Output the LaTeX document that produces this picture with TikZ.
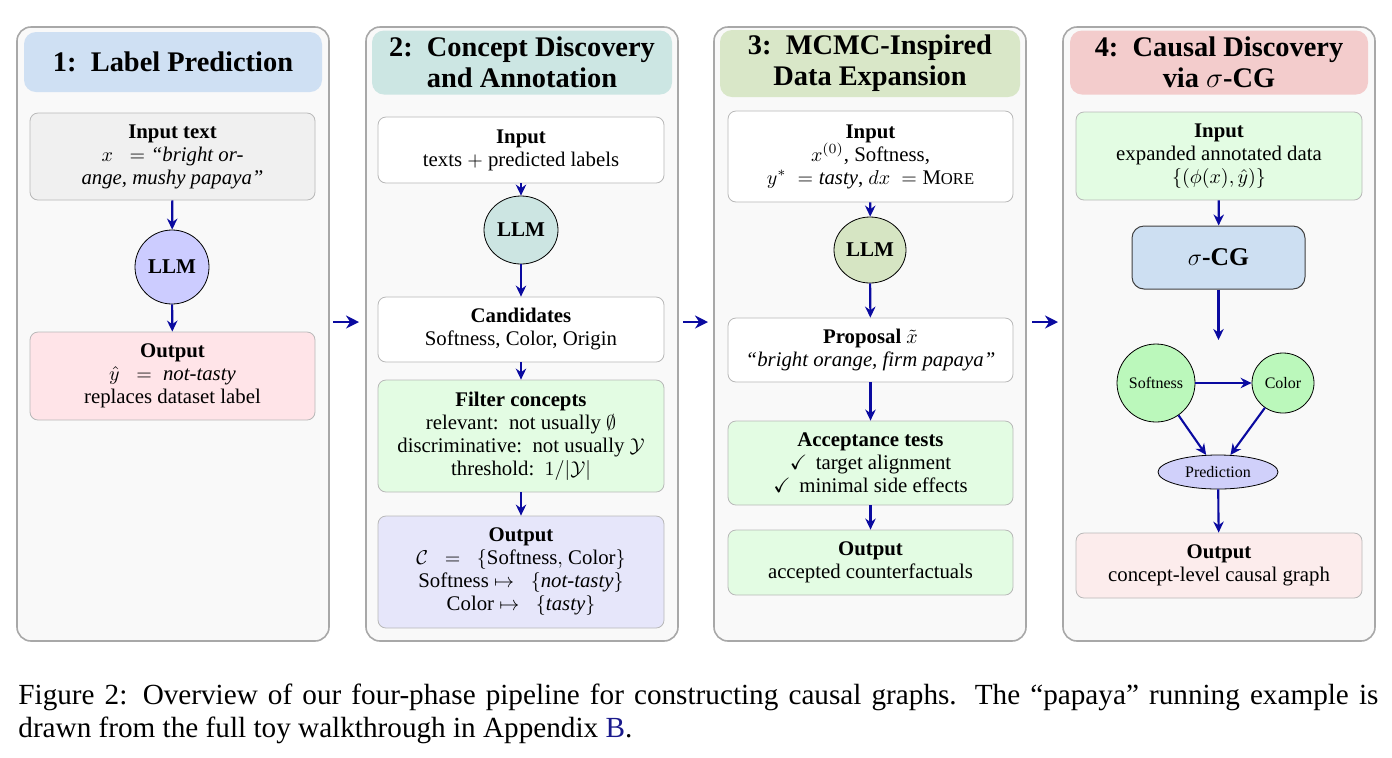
\documentclass[tikz,border=0pt]{standalone}
\usepackage{amsmath,amssymb}
\usepackage{fontspec}
\setmainfont{Liberation Serif}
\usetikzlibrary{arrows.meta,shapes.geometric}
\definecolor{panelfill}{HTML}{F9F9F9}
\definecolor{panelborder}{HTML}{A8A8A8}
\definecolor{hA}{HTML}{CFE0F3}
\definecolor{hB}{HTML}{CCE6E3}
\definecolor{hC}{HTML}{D9E7C8}
\definecolor{hD}{HTML}{F3CCCC}
\definecolor{boxborder}{HTML}{B8B8B8}
\definecolor{grayfill}{HTML}{F0F0F0}
\definecolor{llmA}{HTML}{CCCCFF}
\definecolor{pinkfill}{HTML}{FFE4E8}
\definecolor{llmB}{HTML}{CCE5E2}
\definecolor{greenfill}{HTML}{E3FCE3}
\definecolor{lavfill}{HTML}{E6E6FA}
\definecolor{llmC}{HTML}{D6E5C3}
\definecolor{gnode}{HTML}{BBF8BB}
\definecolor{prednode}{HTML}{D0D0FA}
\definecolor{outpink}{HTML}{FCECEC}
\definecolor{scgfill}{HTML}{CDDFF2}
\definecolor{arrowblue}{HTML}{0A0AA0}
\definecolor{linkblue}{HTML}{1A1A8C}
\newcommand\mybody{\fontsize{10.4}{11.5}\selectfont}
\begin{document}
\begin{tikzpicture}[x=0.5pt,y=-0.5pt,
  panel/.style={draw=panelborder, line width=0.8pt, fill=panelfill, rounded corners=7pt, minimum width=156pt, minimum height=307pt, inner sep=0pt},
  header/.style={fill=#1, rounded corners=6pt, minimum width=149pt, minimum height=32pt, inner sep=0pt, align=center, font=\fontsize{14.2}{15.5}\selectfont\bfseries},
  box/.style={draw=boxborder, line width=0.4pt, rounded corners=4pt, minimum width=143pt, inner sep=1pt, align=center, font=\mybody},
  llmnode/.style={ellipse, draw=black, line width=0.4pt, inner sep=0pt, font=\fontsize{10.5}{12}\selectfont\bfseries},
  gnodestyle/.style={ellipse, draw=black, line width=0.4pt, inner sep=0pt, font=\fontsize{8}{9}\selectfont},
  arr/.style={draw=arrowblue, line width=1.05pt, -{Stealth[length=5.5pt,width=5.2pt]}},
  bigarr/.style={draw=arrowblue, line width=1.4pt, -{Stealth[length=6.5pt,width=6.5pt]}}
]
\useasboundingbox (0,0) rectangle (1392,757);

% panels
\node[panel] (p1) at (173,334) {};
\node[panel] (p2) at (522,334) {};
\node[panel] (p3) at (870,334) {};
\node[panel] (p4) at (1219,334) {};

% headers
\node[header=hA, minimum height=30pt] (h1) at (173,62) {1:\, Label Prediction};
\node[header=hB, minimum width=150pt] (h2) at (522,62.5) {2:\, Concept Discovery\\and Annotation};
\node[header=hC, minimum width=150pt, minimum height=33.5pt] (h3) at (870,63.5) {3:\, MCMC-Inspired\\Data Expansion};
\node[header=hD] (h4) at (1219,62.5) {4:\, Causal Discovery\\via $\sigma$-CG};

% panel 1
\node[box, fill=grayfill, minimum width=142.5pt, minimum height=43.5pt] (in1) at (172.5,156.5)
  {\textbf{Input text}\\ $x\;\;=\;$\textit{``bright or-}\\ \textit{ange, mushy papaya''}};
\node[llmnode, fill=llmA, minimum width=37pt, minimum height=37pt] (llm1) at (172,267) {LLM};
\node[box, fill=pinkfill, minimum width=142.5pt, minimum height=44pt] (out1) at (172.5,376)
  {\textbf{Output}\\ $\hat{y}\;\;=\;\;$\textit{not-tasty}\\ replaces dataset label};
\draw[arr] (in1) -- (llm1);
\draw[arr] (llm1) -- (out1);

% panel 2
\node[box, fill=white, minimum height=33pt] (in2) at (521,150)
  {\textbf{Input}\\ texts $+$ predicted labels};
\node[llmnode, fill=llmB, minimum width=37pt, minimum height=34pt] (llm2) at (521,230) {LLM};
\node[box, fill=white, minimum height=32.5pt] (cand) at (521,329.5)
  {\textbf{Candidates}\\ Softness, Color, Origin};
\node[box, fill=greenfill, minimum height=56pt] (filt) at (521,436)
  {\textbf{Filter concepts}\\ relevant:\, not usually $\emptyset$\\ discriminative:\, not usually $\mathcal{Y}$\\ threshold:\, $1/|\mathcal{Y}|$};
\node[box, fill=lavfill, minimum height=56pt] (out2) at (521,572)
  {\textbf{Output}\\ $\mathcal{C}\;\;=\;\;\{$Softness$,$ Color$\}$\\ Softness $\mapsto\;\;\{$\textit{not-tasty}$\}$\\ Color $\mapsto\;\;\{$\textit{tasty}$\}$};
\draw[arr] (in2) -- (llm2);
\draw[arr] (llm2) -- (cand);
\draw[arr] (cand) -- (filt);
\draw[arr] (filt) -- (out2);

% panel 3
\node[box, fill=white, minimum width=142.5pt, minimum height=45.5pt] (in3) at (870.5,156.5)
  {\textbf{Input}\\ $x^{(0)}$, Softness,\\ $y^{*}\;=\;$\textit{tasty}, $dx\;=\;$M{\fontsize{8.3}{9}\selectfont ORE}};
\node[llmnode, fill=llmC, minimum width=36pt, minimum height=33pt] (llm3) at (870,250) {LLM};
\node[box, fill=white, minimum width=142.5pt, minimum height=32pt] (prop) at (870.5,350)
  {\textbf{Proposal} $\tilde{x}$\\ \textit{``bright orange, firm papaya''}};
\node[box, fill=greenfill, minimum width=142.5pt, minimum height=42pt] (acc) at (870.5,463)
  {\textbf{Acceptance tests}\\ $\checkmark$\, target alignment\\ $\checkmark$\, minimal side effects};
\node[box, fill=greenfill, minimum width=142.5pt, minimum height=32.5pt] (out3) at (870.5,562.5)
  {\textbf{Output}\\ accepted counterfactuals};
\draw[arr] (in3) -- (llm3);
\draw[arr] (llm3) -- (prop);
\draw[arr] (prop) -- (acc);
\draw[arr] (acc) -- (out3);

% panel 4
\node[box, fill=greenfill, minimum height=44pt] (in4) at (1219,156)
  {\textbf{Input}\\ expanded annotated data\\ $\{(\phi(x),\hat{y})\}$};
\node[draw=black!75, line width=0.5pt, fill=scgfill, rounded corners=6pt, minimum width=86.5pt, minimum height=31.5pt, inner sep=0pt, font=\fontsize{12.8}{14}\selectfont\bfseries] (scg) at (1218.5,257.5) {$\sigma$-CG};
\coordinate (scgend) at (1218.5,340);
\node[gnodestyle, fill=gnode, minimum width=39pt, minimum height=39pt] (soft) at (1156,383) {Softness};
\node[gnodestyle, fill=gnode, minimum width=31pt, minimum height=30pt] (col) at (1283,383) {Color};
\node[gnodestyle, fill=prednode, minimum width=60pt, minimum height=17pt] (pred) at (1218,472) {Prediction};
\node[box, fill=outpink, minimum height=32.5pt] (out4) at (1219,565.5)
  {\textbf{Output}\\ concept-level causal graph};
\draw[arr] (in4) -- (scg);
\draw[arr] (scg) -- (scgend);
\draw[arr] (soft) -- (col);
\draw[arr] (soft) -- (pred);
\draw[arr] (col) -- (pred);
\draw[arr] (pred) -- (out4);

% inter-panel arrows
\coordinate (a1s) at (333,322); \coordinate (a1e) at (359,322);
\coordinate (a2s) at (683,322); \coordinate (a2e) at (708,322);
\coordinate (a3s) at (1032,322); \coordinate (a3e) at (1058,322);
\draw[bigarr] (a1s) -- (a1e);
\draw[bigarr] (a2s) -- (a2e);
\draw[bigarr] (a3s) -- (a3e);

% caption
\node[anchor=north west, inner sep=0pt, align=left, font=\fontsize{14.6}{16.5}\selectfont] (cap) at (18,684)
  {\makebox[680pt][s]{Figure 2: Overview of our four-phase pipeline for constructing causal graphs. The ``papaya'' running example is}\\ drawn from the full toy walkthrough in Appendix \textcolor{linkblue}{B}.};
\end{tikzpicture}
\end{document}
